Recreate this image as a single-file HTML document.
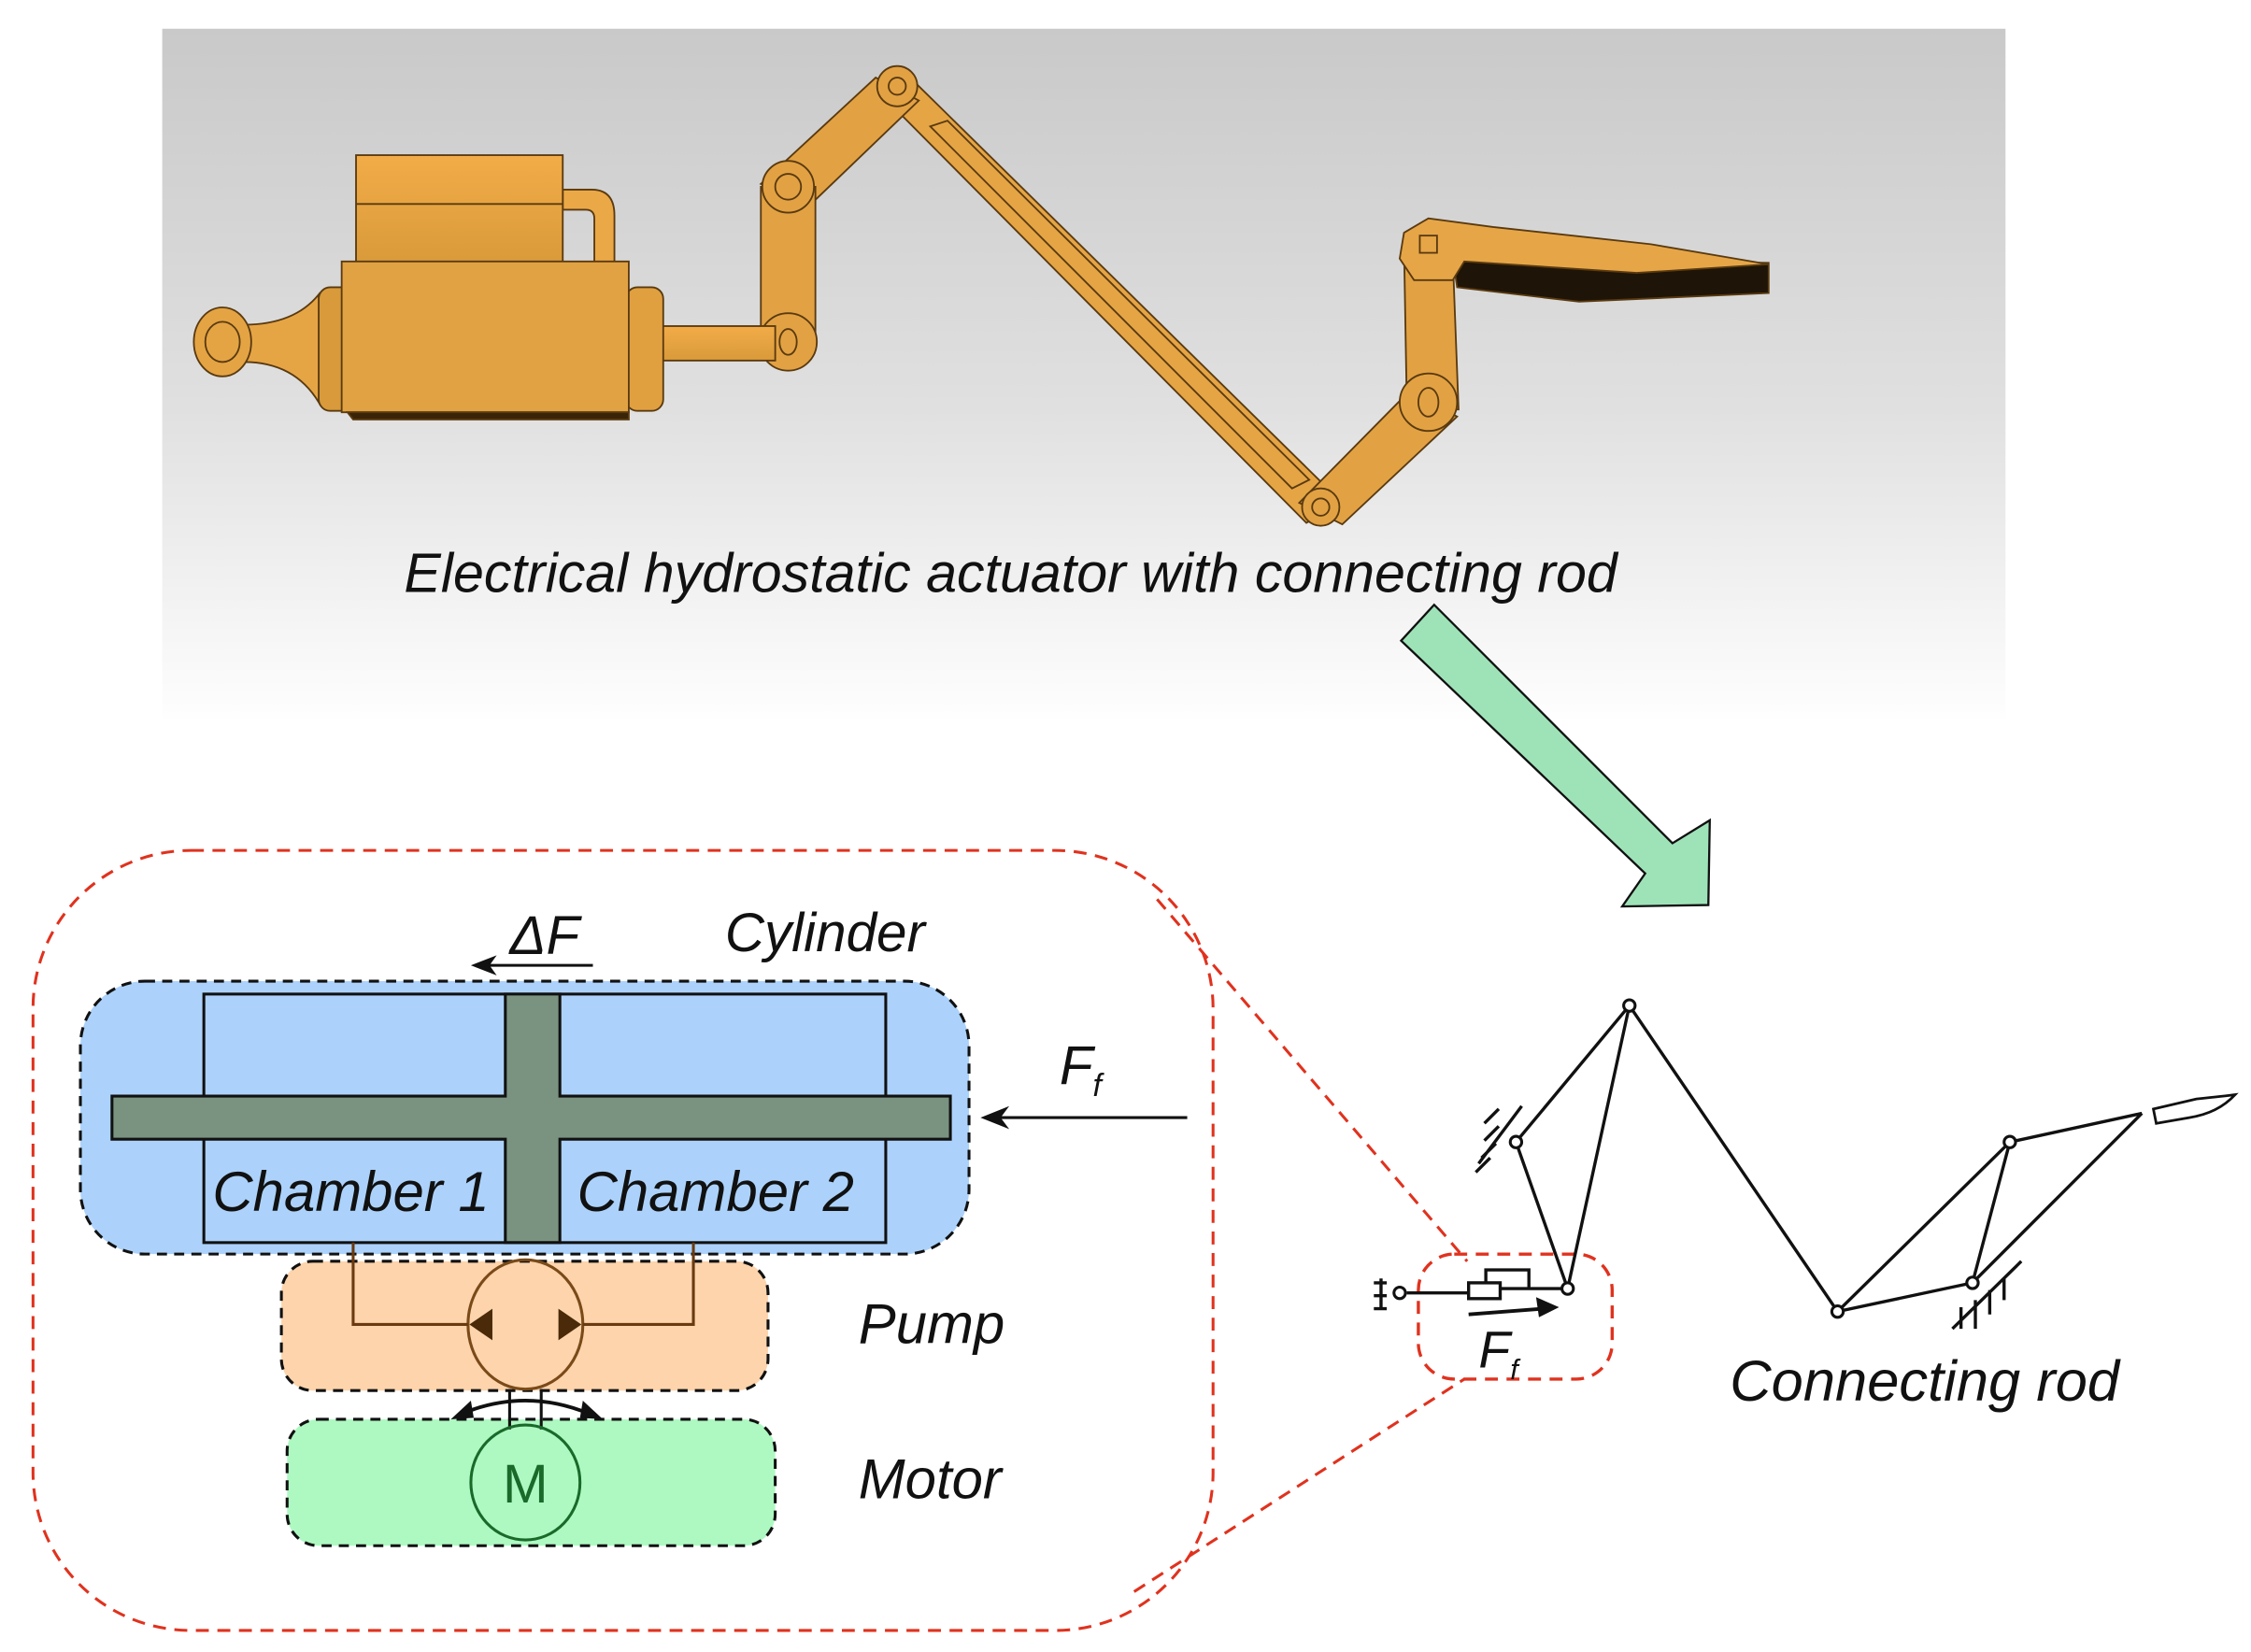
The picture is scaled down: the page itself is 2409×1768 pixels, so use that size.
<!DOCTYPE html>
<html><head><meta charset="utf-8"><style>
html,body{margin:0;padding:0;background:#fff;}
svg{display:block;}
text{font-family:"Liberation Sans",sans-serif;font-style:italic;}
</style></head><body>
<svg width="2409" height="1768" viewBox="0 0 1568 1150" preserveAspectRatio="none" xmlns="http://www.w3.org/2000/svg">
<defs>
<linearGradient id="bg" x1="0" y1="0" x2="0" y2="1">
<stop offset="0" stop-color="#c9c9c9"/><stop offset="0.55" stop-color="#e0e0e0"/><stop offset="1" stop-color="#fefefe"/>
</linearGradient>
<linearGradient id="or" x1="0" y1="0" x2="0" y2="1">
<stop offset="0" stop-color="#f2ac48"/><stop offset="1" stop-color="#d99a3a"/>
</linearGradient>
</defs>
<rect x="113" y="20" width="1284" height="480" fill="url(#bg)"/>

<g stroke="#5a3a10" stroke-width="1.2" fill="#e2a243">
<path d="M612,64 L638,58 L935,350 L910,364 Z" fill="#e5a545"/>
<path d="M648,88 L660,84 L912,334 L900,340 Z" fill="none"/>
<path d="M530,128 L610,54 L640,70 L565,142 Z"/>
<path d="M530,130 L568,130 L568,238 L530,238 Z"/>
<circle cx="549" cy="130" r="18"/><circle cx="549" cy="130" r="9"/>
<circle cx="549" cy="238" r="20"/><ellipse cx="549" cy="238" rx="6" ry="9"/>
<circle cx="625" cy="60" r="14"/><circle cx="625" cy="60" r="6"/>
<path d="M905,350 L982,272 L1015,290 L935,365 Z"/>
<path d="M978,170 L1012,180 L1016,285 L980,285 Z"/>
<circle cx="995" cy="280" r="20"/><ellipse cx="995" cy="280" rx="7" ry="10"/>
<circle cx="920" cy="353" r="13"/><circle cx="920" cy="353" r="6"/>
<path d="M1012,180 L1232,183 L1232,204 L1100,210 L1015,200 Z" fill="#1e1408"/>
<path d="M978,162 L995,152 L1040,158 L1150,170 L1232,184 L1140,190 L1020,182 L1012,195 L985,195 L975,180 Z" fill="#e6a647"/>
<rect x="989" y="164" width="12" height="12" fill="none"/>
<rect x="460" y="227" width="80" height="24" fill="url(#or)"/>
<rect x="436" y="200" width="26" height="86" rx="8" fill="#e0a040"/>
<path d="M392,132 L412,132 Q428,132 428,150 L428,185 L414,185 L414,152 Q414,146 408,146 L392,146 Z" fill="#eba846"/>
<rect x="248" y="108" width="144" height="76" fill="url(#or)"/>
<line x1="248" y1="142" x2="392" y2="142"/>
<rect x="222" y="200" width="24" height="86" rx="8" fill="#d89a3a"/>
<rect x="238" y="182" width="200" height="105" fill="#e1a243"/>
<path d="M242,287 L438,287 L438,292 L246,292 Z" fill="#3a2408"/>
<path d="M170,226 Q205,226 222,205 L222,280 Q205,252 170,252 Z" fill="#e6a545"/>
<ellipse cx="155" cy="238" rx="20" ry="24" fill="#e4a444"/>
<ellipse cx="155" cy="238" rx="12" ry="14" fill="#e4a444"/>
</g>

<text x="704" y="412" font-size="38.5" text-anchor="middle" fill="#111">Electrical hydrostatic actuator with connecting rod</text>

<polygon points="976,446 999,421 1165,587 1191,571 1190,630 1130,631 1146,608" fill="#9ee3b8" stroke="#111" stroke-width="1.5"/>

<rect x="23" y="592" width="822" height="543" rx="110" fill="none" stroke="#e0321e" stroke-width="2" stroke-dasharray="9,6"/>
<line x1="806" y1="626" x2="1022" y2="878" stroke="#e0321e" stroke-width="2" stroke-dasharray="9,6"/>
<line x1="790" y1="1108" x2="1020" y2="960" stroke="#e0321e" stroke-width="2" stroke-dasharray="9,6"/>
<rect x="988" y="873" width="135" height="87" rx="25" fill="none" stroke="#e0321e" stroke-width="2.2" stroke-dasharray="9,6"/>

<rect x="56" y="683" width="619" height="190" rx="45" fill="#acd2fb" stroke="#111" stroke-width="2" stroke-dasharray="7,5"/>
<rect x="142" y="692" width="475" height="173" fill="none" stroke="#111" stroke-width="2"/>
<path d="M78,763 L352,763 L352,692 L390,692 L390,763 L662,763 L662,793 L390,793 L390,865 L352,865 L352,793 L78,793 Z" fill="#7a9381" stroke="#111" stroke-width="2"/>
<text x="148" y="843" font-size="39" fill="#111">Chamber 1</text>
<text x="402" y="843" font-size="39" fill="#111">Chamber 2</text>
<text x="355" y="664" font-size="38" fill="#111">ΔF</text>
<line x1="413" y1="672" x2="338" y2="672" stroke="#111" stroke-width="2"/>
<path d="M328,672 L346,665 L341,672 L346,679 Z" fill="#111"/>
<text x="505" y="662" font-size="38" fill="#111">Cylinder</text>
<text x="738" y="755" font-size="38" fill="#111">F<tspan font-size="22" dy="8">f</tspan></text>
<line x1="827" y1="778" x2="696" y2="778" stroke="#111" stroke-width="2"/>
<path d="M683,778 L703,770 L697,778 L703,786 Z" fill="#111"/>

<rect x="196" y="878" width="339" height="90" rx="22" fill="#fdd4ac" stroke="#111" stroke-width="2" stroke-dasharray="7,5"/>
<ellipse cx="366" cy="922" rx="40" ry="45" fill="none" stroke="#7a4a18" stroke-width="2"/>
<path d="M246,865 L246,922 L326,922 M483,865 L483,922 L406,922" fill="none" stroke="#6a3a10" stroke-width="2"/>
<path d="M327,922 L343,911 L343,933 Z M405,922 L389,911 L389,933 Z" fill="#4a2a08"/>
<text x="598" y="935" font-size="39" fill="#111">Pump</text>

<rect x="200" y="988" width="340" height="88" rx="22" fill="#aef9c2" stroke="#111" stroke-width="2" stroke-dasharray="7,5"/>
<path d="M355,967 L355,995 M377,967 L377,995" stroke="#111" stroke-width="2"/>
<path d="M322,984 Q366,966 410,984" fill="none" stroke="#111" stroke-width="2.5"/>
<path d="M314,988 L328,975 L330,987 Z M420,988 L406,975 L404,987 Z" fill="#111"/>
<ellipse cx="366" cy="1032" rx="38" ry="40" fill="none" stroke="#1a6a2a" stroke-width="2"/>
<text x="366" y="1046" font-size="38" text-anchor="middle" fill="#1a6a2a" style="font-style:normal">M</text>
<text x="598" y="1043" font-size="39" fill="#111">Motor</text>

<g stroke="#111" stroke-width="2.2" fill="none">
<path d="M1056,795 L1135,700 L1092,897 L1056,795 M1135,700 L1280,913 L1374,893 M1280,913 L1400,795 L1374,893 M1400,795 L1492,775 M1374,893 L1492,775"/>
<path d="M1500,772 L1530,765 Q1550,763 1557,762 Q1545,775 1525,778 L1502,782 Z" stroke-width="1.8"/>
<path d="M1030,810 L1060,770 M1034,782 L1044,772 M1034,794 L1044,784 M1032,806 L1042,796 M1028,816 L1038,806"/>
<path d="M1360,925 L1408,878 M1366,925 L1366,910 M1376,925 L1376,905 M1386,915 L1386,898 M1396,905 L1396,890"/>
<path d="M962,890 L962,912 M957,893 L966,893 M957,902 L966,902 M957,911 L966,911"/>
<path d="M980,900 L1023,900 M1045,897 L1065,897 L1065,884 L1035,884 L1035,893 M1065,897 L1092,897"/>
<rect x="1023" y="893" width="22" height="11"/>
<path d="M1023,915 L1075,911" stroke-width="2.5"/>
</g>
<path d="M1086,910 L1070,903 L1072,917 Z" fill="#111"/>
<g fill="#fff" stroke="#111" stroke-width="2">
<circle cx="1135" cy="700" r="4"/><circle cx="1056" cy="795" r="4"/><circle cx="1092" cy="897" r="4"/>
<circle cx="1280" cy="913" r="4"/><circle cx="1374" cy="893" r="4"/><circle cx="1400" cy="795" r="4"/>
<circle cx="975" cy="900" r="4"/>
</g>
<text x="1030" y="952" font-size="36" fill="#111">F<tspan font-size="20" dy="8">f</tspan></text>
<text x="1205" y="975" font-size="40" fill="#111">Connecting rod</text>
</svg>
</body></html>
